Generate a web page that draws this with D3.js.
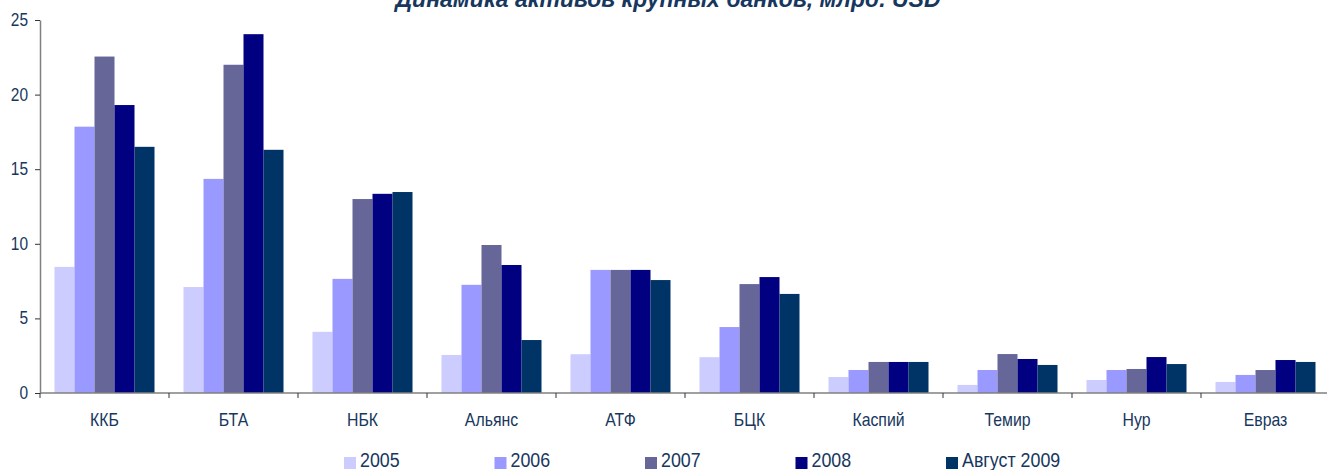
<!DOCTYPE html>
<html><head><meta charset="utf-8">
<script src="https://cdn.jsdelivr.net/npm/d3@7"></script>
<style>
html,body{margin:0;padding:0;background:#fff;}
svg{display:block;}
text{font-family:"Liberation Sans",Arial,sans-serif;}
</style></head>
<body>
<svg id="chart" width="1327" height="470"></svg>
<script>
const title = "Динамика активов крупных банков, млрд. USD";
const categories = ["ККБ","БТА","НБК","Альянс","АТФ","БЦК","Каспий","Темир","Нур","Евраз"];
const seriesNames = ["2005","2006","2007","2008","Август 2009"];
const colors = ["#CCCCFF","#9999FF","#666699","#000080","#003366"];
const s2005 = [8.45, 7.1, 4.1, 2.55, 2.6, 2.4, 1.07, 0.54, 0.87, 0.74];
const s2006 = [17.85, 14.35, 7.65, 7.25, 8.25, 4.42, 1.54, 1.54, 1.54, 1.21];
const s2007 = [22.55, 22.0, 13.0, 9.92, 8.25, 7.3, 2.08, 2.61, 1.61, 1.54];
const s2008 = [19.3, 24.05, 13.35, 8.58, 8.25, 7.77, 2.08, 2.28, 2.41, 2.21];
const sAug2009 = [16.5, 16.3, 13.47, 3.55, 7.57, 6.64, 2.08, 1.88, 1.94, 2.08];
const yTicks = [0, 5, 10, 15, 20, 25];

const series = [s2005, s2006, s2007, s2008, sAug2009];
const textColor = "#17375E";
const svg = d3.select("#chart");

const x = d3.scaleBand().domain(categories).range([40, 1330]).padding(0);
const xs = d3.scaleBand().domain(seriesNames).range([14.5, 114.5]).padding(0);
const y = d3.scaleLinear().domain([0, 25]).range([393, 20]);

// bars
categories.forEach((c, ci) => {
  const g = svg.append("g").attr("transform", `translate(${x(c)},0)`);
  seriesNames.forEach((s, si) => {
    const v = series[si][ci];
    g.append("rect")
      .attr("x", xs(s))
      .attr("y", y(v))
      .attr("width", xs.bandwidth())
      .attr("height", y(0) - y(v))
      .attr("fill", colors[si]);
  });
});

// y axis
const yAxis = svg.append("g").attr("transform", "translate(40,0)")
  .call(d3.axisLeft(y).tickValues(yTicks).tickSize(5).tickSizeOuter(0).tickFormat(""));
yAxis.select(".domain").attr("stroke", "#808080").attr("stroke-width", 1.5);
yAxis.selectAll(".tick line").attr("stroke", "#333");
svg.append("g").selectAll("text").data(yTicks).join("text")
  .attr("transform", d => `translate(28,${y(d) + 6}) scale(0.86,1)`)
  .attr("text-anchor", "end")
  .attr("fill", textColor)
  .style("font-size", "18px")
  .text(d => d);

// x axis line
svg.append("line").attr("x1", 40).attr("x2", 1327).attr("y1", y(0)).attr("y2", y(0))
  .attr("stroke", "#808080").attr("stroke-width", 1.5);
// category boundary ticks
svg.append("g").selectAll("line").data(categories).join("line")
  .attr("x1", d => x(d)).attr("x2", d => x(d))
  .attr("y1", y(0)).attr("y2", y(0) + 5)
  .attr("stroke", "#333");
// category labels
svg.append("g").selectAll("text").data(categories).join("text")
  .attr("transform", d => `translate(${x(d) + x.bandwidth() / 2},426) scale(0.88,1)`)
  .attr("text-anchor", "middle")
  .attr("fill", textColor)
  .style("font-size", "18px")
  .text(d => d);

// title
svg.append("text")
  .attr("x", 668).attr("y", 7)
  .attr("text-anchor", "middle")
  .attr("fill", "#17375E")
  .style("font-size", "23px").style("font-weight", "bold").style("font-style", "italic")
  .text(title);

// legend
const legX = d3.scaleLinear().domain([0, 4]).range([344, 946]);
const leg = svg.append("g");
seriesNames.forEach((s, i) => {
  leg.append("rect").attr("x", legX(i)).attr("y", 457).attr("width", 12).attr("height", 12)
    .attr("fill", colors[i]);
  leg.append("text").attr("transform", `translate(${legX(i) + 16},467) scale(0.85,1)`)
    .attr("fill", textColor).style("font-size", "21px").text(s);
});
</script>
</body></html>
